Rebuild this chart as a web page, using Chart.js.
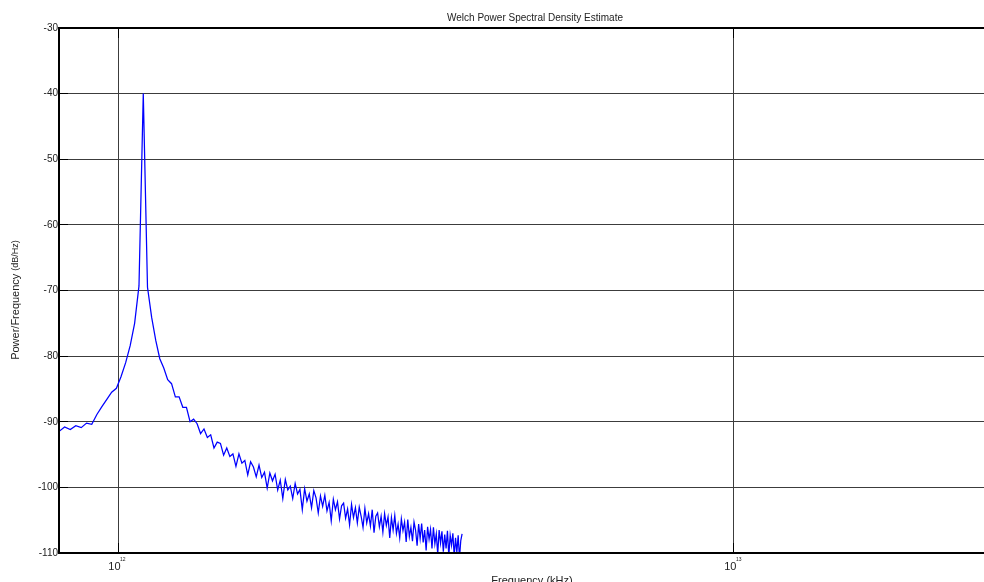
<!DOCTYPE html>
<html>
<head>
<meta charset="utf-8">
<script src="https://cdn.jsdelivr.net/npm/chart.js@4.4.0/dist/chart.umd.min.js"></script>
<style>
html,body{margin:0;padding:0;background:#fff;overflow:hidden;width:984px;height:582px}
#wrap{position:relative;width:1070px;height:582px}
</style>
</head>
<body>
<div id="wrap"><canvas id="c" width="1070" height="582"></canvas></div>
<script>
// ---- text ----
const chartTitle = 'Welch Power Spectral Density Estimate';
const xAxisTitle = 'Frequency (kHz)';
const yAxisTitleMain = 'Power/Frequency';
const yAxisTitleUnit = '(dB/Hz)';

// ---- data: frequency bins (in units of 10^12) and PSD (dB/Hz) ----
const freq = [
0.8015,0.819,0.8365,0.854,0.8715,0.889,0.9065,0.924,0.9415,0.959,0.9765,0.994,1.0115,1.029,1.0465,1.064,1.0815,1.099,
1.1165,1.134,1.1515,1.169,1.1865,1.204,1.2215,1.239,1.2565,1.274,1.2915,1.309,1.3265,1.344,1.3615,1.379,1.3965,1.414,1.4315,1.449,1.4665,1.484,1.5015,1.519,1.5365,
1.554,1.5715,1.589,1.6065,1.624,1.6415,1.659,1.6765,1.694,1.7115,1.729,1.7465,
1.764,1.7815,1.799,1.8165,1.834,1.8515,1.869,1.8865,1.904,1.9215,1.939,1.9565,1.974,
1.9915,2.009,2.0265,2.044,2.0615,2.079,2.0965,2.114,2.1315,2.149,2.1665,2.184,2.2015,2.219,2.2365,
2.254,2.2715,2.289,2.3065,2.324,2.3415,2.359,2.3765,2.394,2.4115,2.429,2.4465,2.464,2.4815,2.499,2.5165,2.534,
2.5515,2.569,2.5865,2.604,2.6215,2.639,2.6565,2.674,2.6915,2.709,2.7265,2.744,2.7615,2.779,2.7965,2.814,2.8315,2.849,2.8665,
2.884,2.9015,2.919,2.9365,2.954,2.9715,2.989,3.0065,3.024,3.0415,3.059,3.0765,3.094,3.1115,3.129,3.1465,3.164,3.1815,3.199,3.2165,3.234,
3.2515,3.269,3.2865,3.304,3.3215,3.339,3.3565,3.374,3.3915,3.409,3.4265,3.444,3.4615,3.479,3.4965,3.514,3.5315,3.549,3.5665,3.584,3.6015,3.619
];
const psd = [
-91.5,-90.8,-91.2,-90.6,-90.9,-90.2,-90.4,-88.9,-87.7,-86.6,-85.5,-84.9,-83.1,-81.0,-78.4,-75.0,-69.3,-40.0,
-69.5,-74.1,-77.6,-80.4,-81.8,-83.6,-84.2,-86.2,-86.2,-87.8,-87.8,-90.0,-89.6,-90.3,-91.8,-91.1,-92.4,-92.0,-94.0,-93.1,-93.3,-95.1,-94.0,-95.3,-94.9,
-96.8,-94.9,-96.3,-95.9,-98.1,-96.1,-96.9,-98.4,-96.6,-98.5,-97.7,-100.1,
-97.8,-99.0,-98.0,-100.4,-98.9,-101.7,-98.8,-100.4,-99.8,-101.7,-99.4,-101.0,-100.3,
-103.4,-100.2,-102.1,-101.0,-103.1,-100.5,-101.6,-103.9,-101.3,-102.9,-101.2,-103.6,-102.3,-105.1,-101.8,
-103.4,-102.2,-104.8,-102.8,-102.4,-104.7,-103.3,-105.7,-102.6,-104.6,-103.1,-105.4,-103.0,-104.4,-106.1,-103.2,-105.4,
-104.0,-105.9,-103.4,-106.9,-104.4,-103.9,-106.0,-104.4,-106.8,-104.0,-105.8,-104.5,-107.7,-104.6,-106.5,-104.3,-107.0,-105.6,-107.7,
-104.8,-106.6,-105.3,-108.3,-104.9,-107.5,-106.1,-108.2,-105.3,-106.5,-108.9,-105.6,-107.8,-105.5,-108.4,-106.5,-109.6,-106.0,-107.9,-106.4,-109.3,
-106.1,-108.6,-107.1,-110.2,-106.5,-108.5,-106.7,-109.8,-107.2,-109.3,-106.6,-110.5,-107.3,-108.8,-107.0,-110.5,-107.7,-109.9,-107.3,-110.8,-108.1,-107.1
];

// ---- ticks ----
const xTickValues = [1, 10];
const xTickBase = ['10', '10'];
const xTickExp = ['12', '13'];
const yTickValues = [-110, -100, -90, -80, -70, -60, -50, -40, -30];

const FONT = "'Liberation Sans', Arial, sans-serif";

const decor = {
  id: 'decor',
  afterDatasetsDraw(chart) {
    const {ctx, chartArea: a, scales: {x, y}} = chart;
    const al = p => Math.round(p - 0.5) + 0.5;
    ctx.save();
    ctx.strokeStyle = '#000';
    ctx.lineWidth = 1;
    yTickValues.forEach(v => {
      const py = al(y.getPixelForValue(v));
      ctx.beginPath(); ctx.moveTo(a.left, py); ctx.lineTo(a.left + 9, py); ctx.stroke();
    });
    xTickValues.forEach(v => {
      const px = al(x.getPixelForValue(v));
      ctx.beginPath();
      ctx.moveTo(px, a.top); ctx.lineTo(px, a.top + 10);
      ctx.moveTo(px, a.bottom); ctx.lineTo(px, a.bottom - 10);
      ctx.stroke();
    });
    ctx.lineWidth = 2;
    ctx.strokeRect(a.left, a.top, a.right - a.left, a.bottom - a.top);
    ctx.restore();
  },
  afterDraw(chart) {
    const {ctx, chartArea: a, scales: {x}} = chart;
    ctx.save();
    ctx.fillStyle = '#222';
    ctx.font = '10px ' + FONT;
    ctx.textAlign = 'center';
    ctx.textBaseline = 'alphabetic';
    ctx.fillText(chartTitle, (a.left + a.right) / 2, 21);
    ctx.font = '11px ' + FONT;
    ctx.fillText(xAxisTitle, (a.left + a.right) / 2 - 3, 584);
    xTickValues.forEach((v, i) => {
      const px = x.getPixelForValue(v);
      ctx.font = '11px ' + FONT;
      ctx.textAlign = 'right';
      ctx.fillText(xTickBase[i], px + 2.5, 570);
      ctx.font = '5px ' + FONT;
      ctx.textAlign = 'left';
      ctx.fillText(xTickExp[i], px + 2, 561);
    });
    ctx.translate(16, 300);
    ctx.rotate(-Math.PI / 2);
    ctx.textBaseline = 'middle';
    ctx.textAlign = 'left';
    ctx.font = '11px ' + FONT;
    const w1 = ctx.measureText(yAxisTitleMain).width;
    ctx.font = '9px ' + FONT;
    const w2 = ctx.measureText(yAxisTitleUnit).width;
    const gap = 3;
    const start = -(w1 + gap + w2) / 2;
    ctx.font = '11px ' + FONT;
    ctx.fillText(yAxisTitleMain, start, 0);
    ctx.font = '9px ' + FONT;
    ctx.fillText(yAxisTitleUnit, start + w1 + gap, 0);
    ctx.restore();
  }
};

new Chart(document.getElementById('c'), {
  type: 'line',
  data: {
    datasets: [{
      data: freq.map((f, i) => ({x: f, y: psd[i]})),
      borderColor: '#0000ff',
      borderWidth: 1.25,
      pointRadius: 0,
      tension: 0,
      fill: false
    }]
  },
  options: {
    responsive: false,
    animation: false,
    devicePixelRatio: 1,
    layout: {padding: {top: 28, right: 59, left: 0, bottom: 0}},
    plugins: {legend: {display: false}, title: {display: false}, tooltip: {enabled: false}},
    scales: {
      x: {
        type: 'logarithmic',
        min: 0.802,
        max: 28.17,
        afterBuildTicks: s => { s.ticks = xTickValues.map(v => ({value: v})); },
        afterFit: s => { s.height = 29; },
        ticks: {display: false},
        grid: {color: '#3c3c3c', lineWidth: 1, drawTicks: false},
        border: {display: false}
      },
      y: {
        type: 'linear',
        min: -110,
        max: -30,
        afterBuildTicks: s => { s.ticks = yTickValues.map(v => ({value: v})); },
        afterFit: s => { s.width = 59; },
        ticks: {
          padding: 1,
          color: '#222',
          font: {family: FONT, size: 10},
          callback: v => String(v)
        },
        grid: {color: '#3c3c3c', lineWidth: 1, drawTicks: false},
        border: {display: false}
      }
    }
  },
  plugins: [decor]
});
</script>
</body>
</html>
